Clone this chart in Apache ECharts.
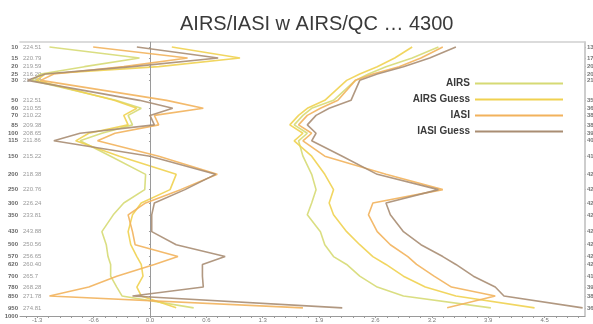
<!DOCTYPE html>
<html>
<head>
<meta charset="utf-8">
<script src="https://cdn.jsdelivr.net/npm/echarts@6/dist/echarts.min.js"></script>
<style>
  html, body { margin: 0; padding: 0; background: #fff; }
  #chart { width: 593px; height: 324px; }
</style>
</head>
<body>
<div id="chart"></div>
<script>
// Pressure levels (hPa) and the mean temperature at each level
const levels = [10, 15, 20, 25, 30, 50, 60, 70, 85, 100, 115, 150, 200, 250, 300, 350, 430, 500, 570, 620, 700, 780, 850, 950];
const temps = ['224.51', '220.79', '219.59', '216.20', '214.88', '212.51', '210.55', '210.22', '209.38', '208.65', '211.86', '215.22', '218.38', '220.76', '226.24', '233.81', '243.88', '250.56', '256.65', '260.40', '265.7', '268.28', '271.78', '274.81'];
const counts = ['1342', '1755', '2010', '2075', '2190', '3534', '3652', '3810', '3866', '3921', '4012', '4120', '4210', '4235', '4260', '4270', '4275', '4280', '4290', '4250', '4120', '3910', '3800', '3620'];
const bottomLevel = 1000;

// x-axis tick positions and their labels
const xTicks = [-1.29, -0.645, 0, 0.645, 1.29, 1.935, 2.58, 3.225, 3.87, 4.515];
const xTickLabels = ['-1.3', '-0.6', '0.0', '0.6', '1.3', '1.9', '2.6', '3.2', '3.9', '4.5'];

const seriesNames = ['AIRS', 'AIRS Guess', 'IASI', 'IASI Guess'];

// Mean difference (bias) profiles
const airsBias      = [-1.15, -0.12, -0.75, -1.25, -1.35, -0.39, -0.10, -0.25, -0.20, -0.55, -0.80, -0.45, -0.05, -0.06, -0.30, -0.42, -0.55, -0.50, -0.48, -0.45, -0.45, -0.38, -0.32, 0.50];
const airsGuessBias = [0.25, 1.03, 0.10, -1.20, -1.30, -0.41, -0.15, -0.30, -0.25, -0.70, -0.85, -0.35, 0.30, 0.23, -0.10, -0.20, -0.25, -0.22, -0.15, -0.10, -0.08, -0.15, -0.10, 0.30];
const iasiBias      = [-0.65, 0.43, -0.30, -1.10, -1.25, 0.19, 0.61, 0.05, 0.10, -0.40, -0.60, 0.10, 0.77, 0.35, -0.05, -0.25, -0.20, -0.17, 0.32, 0.05, -0.38, -0.70, -1.15, 1.75];
const iasiGuessBias = [-0.15, 0.78, -0.20, -1.20, -1.40, -0.12, 0.26, 0.00, 0.05, -0.80, -1.10, 0.00, 0.75, 0.40, 0.05, 0.02, 0.02, 0.30, 0.86, 0.60, 0.60, 0.61, -0.20, 2.20];

// Standard deviation profiles
const airsStd      = [3.30, 3.00, 2.70, 2.50, 2.35, 2.10, 1.85, 1.75, 1.65, 1.80, 1.70, 1.75, 1.85, 1.90, 1.85, 1.80, 1.95, 2.00, 2.10, 2.25, 2.40, 2.60, 2.90, 3.90];
const airsGuessStd = [3.00, 2.80, 2.60, 2.40, 2.25, 2.00, 1.80, 1.70, 1.60, 1.75, 1.65, 1.85, 2.00, 2.10, 2.05, 2.10, 2.25, 2.40, 2.55, 2.70, 2.90, 3.15, 3.50, 4.40];
const iasiStd      = [3.35, 3.10, 2.85, 2.55, 2.35, 2.15, 1.95, 1.80, 1.70, 1.85, 1.75, 2.00, 2.70, 3.35, 2.55, 2.50, 2.60, 2.75, 2.95, 3.05, 3.25, 3.45, 3.95, 3.40];
const iasiGuessStd = [3.50, 3.20, 2.90, 2.60, 2.40, 2.30, 2.05, 1.90, 1.80, 1.90, 1.85, 2.20, 2.60, 3.30, 2.70, 2.75, 2.90, 3.10, 3.35, 3.50, 3.70, 3.95, 4.05, 4.95];

const colors = ['#d6da74', '#f0d150', '#f2b25c', '#a98d73'];

// Vertical scale: pressure raised to a small power, top of atmosphere up
const EXP = 0.32;
const tp = p => Math.pow(p, EXP);
const yMax = tp(1023);
const yMin = tp(10) - (yMax - tp(10)) * 5 / 269;

const levelTicks = levels.map(tp);
const labelIndex = v => {
  let best = 0, d = Infinity;
  levelTicks.forEach((t, i) => { const e = Math.abs(t - v); if (e < d) { d = e; best = i; } });
  return best;
};

// One series per source: bias profile, a break, then the std-dev profile
function profile(bias, std) {
  const a = bias.map((v, i) => [v, tp(levels[i])]);
  const b = std.map((v, i) => [v, tp(levels[i])]);
  return a.concat([['-', '-']], b);
}
const profiles = [
  profile(airsBias, airsStd),
  profile(airsGuessBias, airsGuessStd),
  profile(iasiBias, iasiStd),
  profile(iasiGuessBias, iasiGuessStd)
];

// Minor ticks between the labelled ones
const minorTicks = [];
for (let v = -1.29 - 0.129; v <= 4.98; v += 0.129) minorTicks.push(+v.toFixed(4));

const chart = echarts.init(document.getElementById('chart'), null, { renderer: 'canvas' });

const series = profiles.map((d, i) => ({
  name: seriesNames[i],
  type: 'line',
  data: d,
  xAxisIndex: 0,
  yAxisIndex: 0,
  showSymbol: false,
  symbol: 'none',
  connectNulls: false,
  lineStyle: { color: colors[i], width: 1.6, opacity: 0.9 },
  itemStyle: { color: colors[i] },
  z: 3 + i,
  silent: true,
  markLine: i === 0 ? {
    silent: true,
    symbol: 'none',
    label: { show: false },
    lineStyle: { color: '#9a9a9a', width: 1, type: 'solid' },
    data: [{ xAxis: 0 }]
  } : undefined
}));

const smallLabel = { fontSize: 6, lineHeight: 5, fontFamily: 'Liberation Sans, Arial, sans-serif', hideOverlap: false, showMinLabel: true, showMaxLabel: true };

// Hidden-line y axis sharing the plot's vertical range
function sideAxis(extra) {
  return Object.assign({
    type: 'value', inverse: true, min: yMin, max: yMax, position: 'left',
    axisLine: { show: false }, axisTick: { show: false }, splitLine: { show: false }
  }, extra);
}

chart.setOption({
  animation: false,
  backgroundColor: '#fff',
  title: {
    text: 'AIRS/IASI w AIRS/QC \u2026 4300',
    left: 175,
    top: 9,
    textStyle: { fontFamily: 'Liberation Sans, Arial, sans-serif', fontSize: 20, fontWeight: 'normal', color: '#3a3a3a' }
  },
  legend: {
    data: seriesNames,
    orient: 'vertical',
    right: 25,
    top: 72,
    align: 'right',
    icon: 'rect',
    itemWidth: 88,
    itemHeight: 2,
    itemGap: 3,
    textStyle: { fontFamily: 'Liberation Sans, Arial, sans-serif', fontSize: 10, fontWeight: 'bold', color: '#3a3a3a', lineHeight: 13 }
  },
  grid: { left: 20, right: 8, top: 42, bottom: 8, containLabel: false, outerBoundsMode: 'none' },
  xAxis: [
    {
      type: 'value',
      min: -1.487,
      max: 4.977,
      position: 'bottom',
      axisLine: { show: true, lineStyle: { color: '#9a9a9a', width: 1 } },
      axisTick: { show: true, length: 2, customValues: minorTicks, lineStyle: { color: '#9a9a9a' } },
      axisLabel: Object.assign({}, smallLabel, {
        show: true, customValues: xTicks, margin: 2, color: '#777',
        formatter: v => xTickLabels[xTicks.findIndex(t => Math.abs(t - v) < 1e-6)]
      }),
      splitLine: { show: false }
    },
    {
      type: 'value',
      min: -1.487,
      max: 4.977,
      position: 'top',
      axisLine: { show: true, lineStyle: { color: '#cfcfcf', width: 1.5 } },
      axisTick: { show: false },
      axisLabel: { show: false },
      splitLine: { show: false }
    }
  ],
  yAxis: [
    sideAxis({
      axisLine: { show: true, lineStyle: { color: '#9a9a9a', width: 1 } },
      axisTick: { show: true, length: 1, customValues: levelTicks, lineStyle: { color: '#9a9a9a' } },
      axisLabel: Object.assign({}, smallLabel, {
        show: true, customValues: levelTicks, margin: 2,
        fontWeight: 'bold', color: '#666',
        formatter: v => String(levels[labelIndex(v)])
      })
    }),
    sideAxis({
      axisLabel: Object.assign({}, smallLabel, {
        show: true, inside: true, customValues: levelTicks, margin: 3,
        color: '#999',
        formatter: v => temps[labelIndex(v)]
      })
    }),
    sideAxis({
      position: 'right',
      axisLine: { show: true, lineStyle: { color: '#bdbdbd', width: 1.5 } },
      axisTick: { show: true, length: 1, customValues: levelTicks, lineStyle: { color: '#bdbdbd' } },
      axisLabel: Object.assign({}, smallLabel, {
        show: true, customValues: levelTicks, margin: 2,
        fontWeight: 'bold', color: '#777',
        formatter: v => counts[labelIndex(v)]
      })
    }),
    // Surface label at the foot of the pressure axis
    sideAxis({
      axisLabel: Object.assign({}, smallLabel, {
        show: true, customValues: [yMax], margin: 2,
        fontWeight: 'bold', color: '#666',
        formatter: () => String(bottomLevel)
      })
    })
  ],
  series: series
});
</script>
</body>
</html>
